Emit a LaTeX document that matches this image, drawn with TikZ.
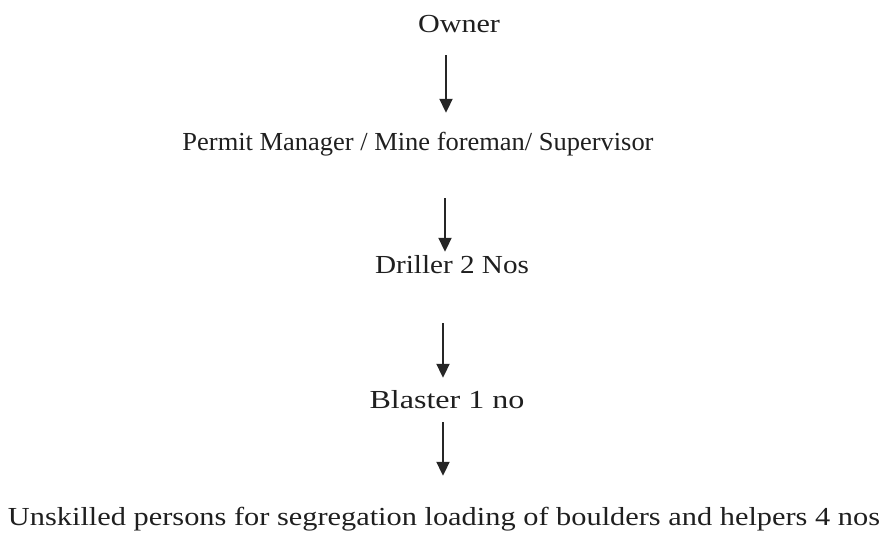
\documentclass[tikz,border=0pt]{standalone}
\usepackage{fontspec}
\setmainfont{Liberation Serif}
\usetikzlibrary{arrows.meta}
\begin{document}
\begin{tikzpicture}[x=1pt,y=-1pt,
  lbl/.style={anchor=base,inner sep=0pt,text height=17pt,text depth=5pt,
    text=black!88,font=\fontsize{26}{30}\selectfont},
  arr/.style={line width=2pt,draw=black!85,-{Triangle[width=13pt,length=14pt]}}]
\useasboundingbox (0,0) rectangle (885,537);
\node[lbl] (owner) at (459,33) {\resizebox{82pt}{\height}{Owner}};
\node[lbl] (permit) at (418,151) {\resizebox{471pt}{\height}{Permit Manager / Mine foreman/ Supervisor}};
\node[lbl] (driller) at (452,273) {\resizebox{154pt}{\height}{Driller 2 Nos}};
\node[lbl] (blaster) at (447,408) {\resizebox{155pt}{\height}{Blaster 1 no}};
\node[lbl] (unsk) at (444,525) {\resizebox{872pt}{\height}{Unskilled persons for segregation loading of boulders and helpers 4 nos}};
\coordinate (a1) at (446,0);
\coordinate (a2) at (445,0);
\coordinate (a3) at (443,0);
\coordinate (a4) at (443,0);
\draw[arr,shorten <=17pt,shorten >=21pt] (owner.south -| a1) -- (permit.north -| a1);
\draw[arr,shorten <=42pt,shorten >=4pt] (permit.south -| a2) -- (driller.north -| a2);
\draw[arr,shorten <=45pt,shorten >=13pt] (driller.south -| a3) -- (blaster.north -| a3);
\draw[arr,shorten <=9pt,shorten >=32pt] (blaster.south -| a4) -- (unsk.north -| a4);
\end{tikzpicture}
\end{document}
